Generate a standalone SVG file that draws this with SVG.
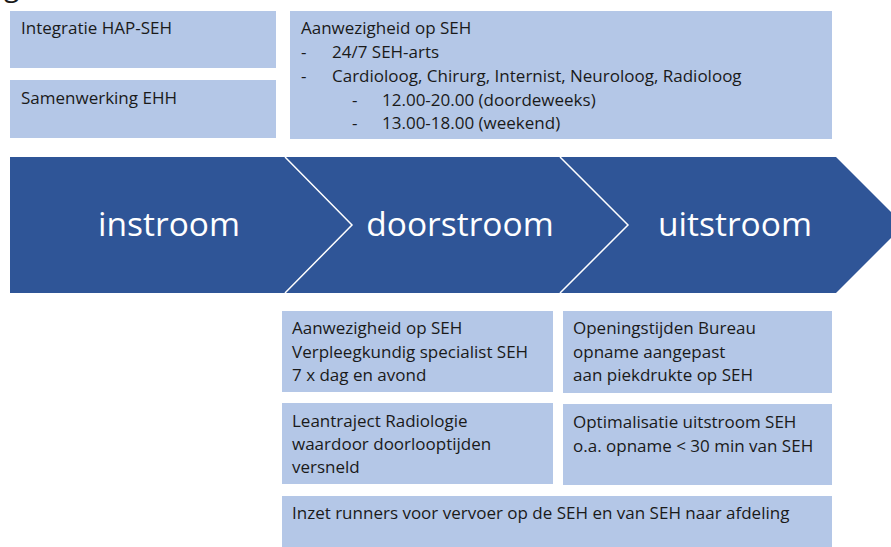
<svg xmlns="http://www.w3.org/2000/svg" width="891" height="547" viewBox="0 0 891 547">
<style>
.box{fill:#B4C7E7;}
.t{font-family:"Open Sans","Liberation Sans",sans-serif;font-size:17px;fill:#1A1A1A;}
.big{font-family:"Open Sans","Liberation Sans",sans-serif;font-size:33.5px;fill:#FFFFFF;text-anchor:middle;}
.sep{fill:none;stroke:#FFFFFF;stroke-width:1.5;}
</style>
<rect width="891" height="547" fill="#FFFFFF"/>
<text class="t" x="4" y="-4" style="font-size:28px">g</text>

<g id="box-integratie">
<rect class="box" x="10" y="11" width="266" height="57"/>
<text class="t" x="21" y="34">Integratie HAP-SEH</text>
</g>
<g id="box-samenwerking">
<rect class="box" x="10" y="80" width="266" height="58"/>
<text class="t" x="21" y="104">Samenwerking EHH</text>
</g>
<g id="box-aanwezigheid-top">
<rect class="box" x="290" y="11" width="542" height="128"/>
<text class="t" x="301" y="34">Aanwezigheid op SEH</text>
<text class="t" x="301" y="58">-</text>
<text class="t" x="332" y="58">24/7 SEH-arts</text>
<text class="t" x="301" y="82">-</text>
<text class="t" x="332" y="82">Cardioloog, Chirurg, Internist, Neuroloog, Radioloog</text>
<text class="t" x="352" y="106">-</text>
<text class="t" x="382" y="106">12.00-20.00 (doordeweeks)</text>
<text class="t" x="352" y="129">-</text>
<text class="t" x="382" y="129">13.00-18.00 (weekend)</text>
</g>

<g id="process-arrow">
<polygon points="10,157 836,157 904,225 836,293 10,293" fill="#2F5597"/>
</g>
<g id="connectors">
<polyline class="sep" points="285,157 352,225 285,293"/>
<polyline class="sep" points="560,157 628,225 560,293"/>
</g>
<g id="instroom"><text class="big" x="169" y="236">instroom</text></g>
<g id="doorstroom"><text class="big" x="460" y="236">doorstroom</text></g>
<g id="uitstroom"><text class="big" x="735" y="236">uitstroom</text></g>

<g id="box-vs-seh">
<rect class="box" x="282" y="311" width="271" height="81"/>
<text class="t" x="292" y="334">Aanwezigheid op SEH</text>
<text class="t" x="292" y="358">Verpleegkundig specialist SEH</text>
<text class="t" x="292" y="381">7 x dag en avond</text>
</g>
<g id="box-leantraject">
<rect class="box" x="282" y="403" width="271" height="81"/>
<text class="t" x="292" y="427">Leantraject Radiologie</text>
<text class="t" x="292" y="450">waardoor doorlooptijden</text>
<text class="t" x="292" y="473">versneld</text>
</g>
<g id="box-openingstijden">
<rect class="box" x="563" y="311" width="269" height="82"/>
<text class="t" x="573" y="334">Openingstijden Bureau</text>
<text class="t" x="573" y="358">opname aangepast</text>
<text class="t" x="573" y="381">aan piekdrukte op SEH</text>
</g>
<g id="box-optimalisatie">
<rect class="box" x="563" y="404" width="269" height="81"/>
<text class="t" x="573" y="428">Optimalisatie uitstroom SEH</text>
<text class="t" x="573" y="452">o.a. opname &lt; 30 min van SEH</text>
</g>
<g id="box-runners">
<rect class="box" x="282" y="496" width="550" height="51"/>
<text class="t" x="292" y="519">Inzet runners voor vervoer op de SEH en van SEH naar afdeling</text>
</g>
</svg>
